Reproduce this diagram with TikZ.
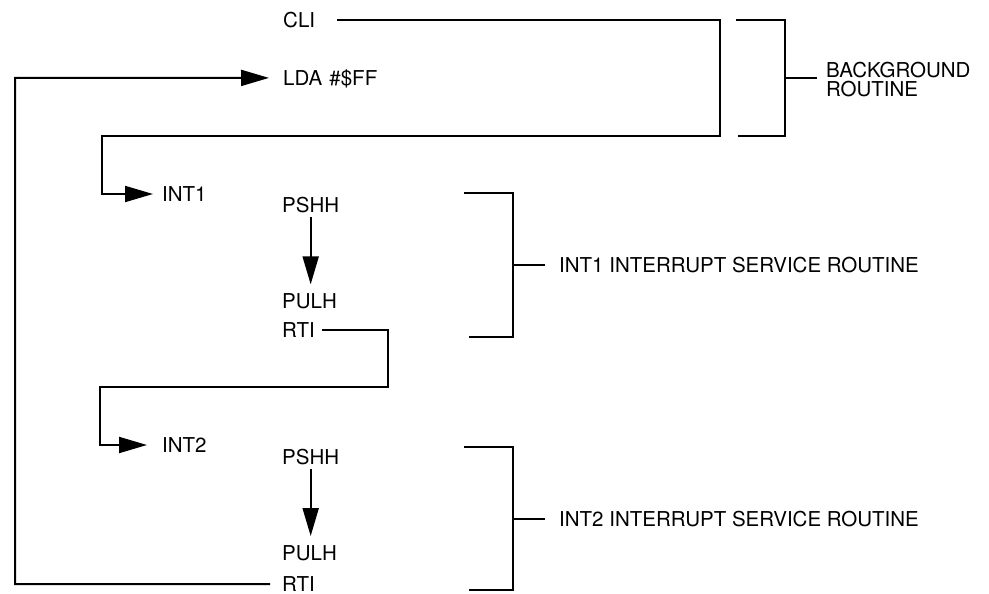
\documentclass[tikz,border=0pt]{standalone}
\usepackage{fontspec}
\setmainfont{TeX Gyre Heros}
\usetikzlibrary{arrows.meta,positioning,calc}

\begin{document}
\begin{tikzpicture}[
    x=1pt, y=-1pt,
    txt/.style={inner sep=0pt, anchor=west, text height=14.7pt, text depth=0pt, font=\fontsize{20.5}{23}\selectfont},
    note/.style={inner sep=0pt, anchor=west, align=left, font=\fontsize{20.5}{19}\selectfont},
    wire/.style={line width=2pt},
    flow/.style={line width=2pt, -{Triangle[length=28pt, width=16pt]}}
]
\useasboundingbox (0,0) rectangle (989,594);

% Background routine
\node[txt] (cli) at (283,20) {CLI};
\node[txt, below right=42.8pt and 0pt of cli.south west] (lda) {LDA\hspace{0.35em}\#\$FF};

% INT1 service routine
\node[txt] (int1) at (162,194) {INT1};
\node[txt] (pshh1) at (282,205) {PSHH};
\node[txt, below right=80.8pt and 0pt of pshh1.south west] (pulh1) {PULH};
\node[txt, below right=13.8pt and 0pt of pulh1.south west] (rti1) {RTI};

% INT2 service routine
\node[txt] (int2) at (162,445) {INT2};
\node[txt, below right=112.3pt and 0pt of rti1.south west] (pshh2) {PSHH};
\node[txt, below right=81.3pt and 0pt of pshh2.south west] (pulh2) {PULH};
\node[txt, below right=15.3pt and 0pt of pulh2.south west] (rti2) {RTI};

% Labels
\node[note] (bg_text) at (826,80) {BACKGROUND\\ROUTINE};
\node[txt] (isr1) at (559,265) {INT1 INTERRUPT SERVICE ROUTINE};
\node[txt] (isr2) at (559,519) {INT2 INTERRUPT SERVICE ROUTINE};

% Bends
\coordinate (cli_drop) at (720,136);
\coordinate (int1_bend) at (102,136);
\coordinate (rti_drop) at (388,387);
\coordinate (int2_bend) at (100,387);
\coordinate (loop_left) at (15,78);
\coordinate (bg_tick) at (785,78);
\coordinate (isr1_tick) at (513,265);
\coordinate (isr2_tick) at (513,519);

% Arrows
\draw[flow, shorten <=22pt, shorten >=9pt] (cli.east) -| (cli_drop) -- (int1_bend) |- (int1.west);
\draw[flow, shorten <=4.3pt, shorten >=9pt] (pshh1.south) -- (pshh1.south |- pulh1.north);
\draw[flow, shorten <=7pt, shorten >=15pt] (rti1.east) -| (rti_drop) -- (int2_bend) |- (int2.west);
\draw[flow, shorten <=4.5pt, shorten >=10pt] (pshh2.south) -- (pshh2.south |- pulh2.north);
\draw[flow, shorten <=12pt, shorten >=14pt] (rti2.west) -| (loop_left) -- (lda.west);

% Brackets
\draw[wire] (736,20) -| (785,136) -- (738,136);
\draw[wire, shorten >=9pt] (bg_tick) -- (bg_tick -| bg_text.west);
\draw[wire] (464,193) -| (513,337) -- (469,337);
\draw[wire, shorten >=14pt] (isr1_tick) -- (isr1_tick -| isr1.west);
\draw[wire] (464,447) -| (513,590) -- (469,590);
\draw[wire, shorten >=14pt] (isr2_tick) -- (isr2_tick -| isr2.west);

\end{tikzpicture}
\end{document}
